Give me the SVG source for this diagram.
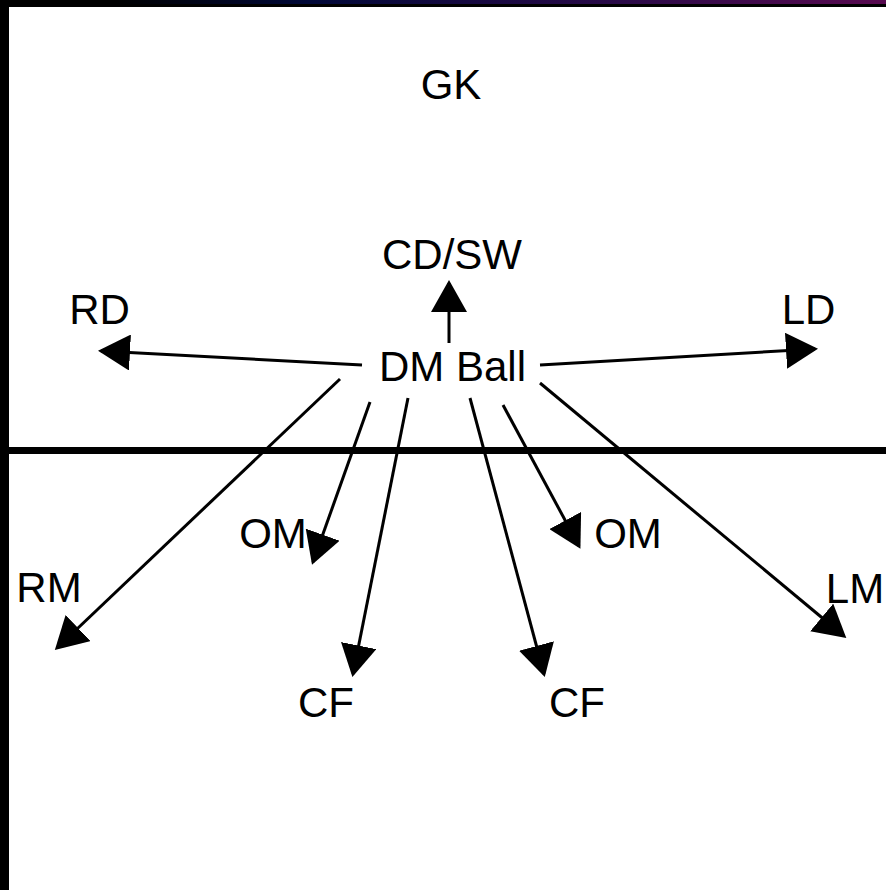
<svg xmlns="http://www.w3.org/2000/svg" width="886" height="890" viewBox="0 0 886 890">
<style>
  text { font-family: "Liberation Sans", Arial, sans-serif; font-size: 42px; fill: #000; text-anchor: middle; }
  .arrow { stroke: #000; stroke-width: 3; fill: none; marker-end: url(#head); }
</style>
<defs>
  <marker id="head" viewBox="0 0 32 36" refX="29" refY="18" markerWidth="32" markerHeight="36" markerUnits="userSpaceOnUse" orient="auto">
    <path d="M0,0 L32,18 L0,36 Z" fill="#000"/>
  </marker>
  <linearGradient id="topbar" x1="0" y1="0" x2="1" y2="0">
    <stop offset="0" stop-color="#000"/>
    <stop offset="0.13" stop-color="#000"/>
    <stop offset="0.35" stop-color="#000838"/>
    <stop offset="0.7" stop-color="#2a0a48"/>
    <stop offset="1" stop-color="#580a50"/>
  </linearGradient>
</defs>
<rect x="0" y="0" width="886" height="890" fill="#fff"/>
<g id="frame">
  <rect x="0" y="0" width="886" height="7" fill="#000"/>
  <rect x="0" y="0" width="886" height="4" fill="url(#topbar)"/>
  <rect x="0" y="0" width="9" height="890" fill="#000"/>
  <rect x="0" y="447" width="886" height="7" fill="#000"/>
</g>
<g id="connectors">
  <line class="arrow" x1="449" y1="343" x2="449" y2="283"/>
  <line class="arrow" x1="362" y1="365" x2="101" y2="351"/>
  <line class="arrow" x1="540" y1="365" x2="815" y2="349"/>
  <line class="arrow" x1="340" y1="379" x2="57" y2="648"/>
  <line class="arrow" x1="370" y1="402" x2="313" y2="562"/>
  <line class="arrow" x1="408" y1="398" x2="353" y2="674"/>
  <line class="arrow" x1="470" y1="398" x2="544" y2="674"/>
  <line class="arrow" x1="503" y1="405" x2="579" y2="546"/>
  <line class="arrow" x1="540" y1="383" x2="844" y2="636"/>
</g>
<g id="GK"><text x="451" y="99">GK</text></g>
<g id="CDSW"><text x="452" y="269">CD/SW</text></g>
<g id="DMBall"><text x="452.5" y="381">DM Ball</text></g>
<g id="RD"><text x="99.5" y="324">RD</text></g>
<g id="LD"><text x="808.5" y="324">LD</text></g>
<g id="OM-left"><text x="273" y="548">OM</text></g>
<g id="OM-right"><text x="628" y="548">OM</text></g>
<g id="RM"><text x="49" y="602">RM</text></g>
<g id="LM"><text x="855" y="603">LM</text></g>
<g id="CF-left"><text x="326" y="717">CF</text></g>
<g id="CF-right"><text x="577" y="717">CF</text></g>
</svg>
